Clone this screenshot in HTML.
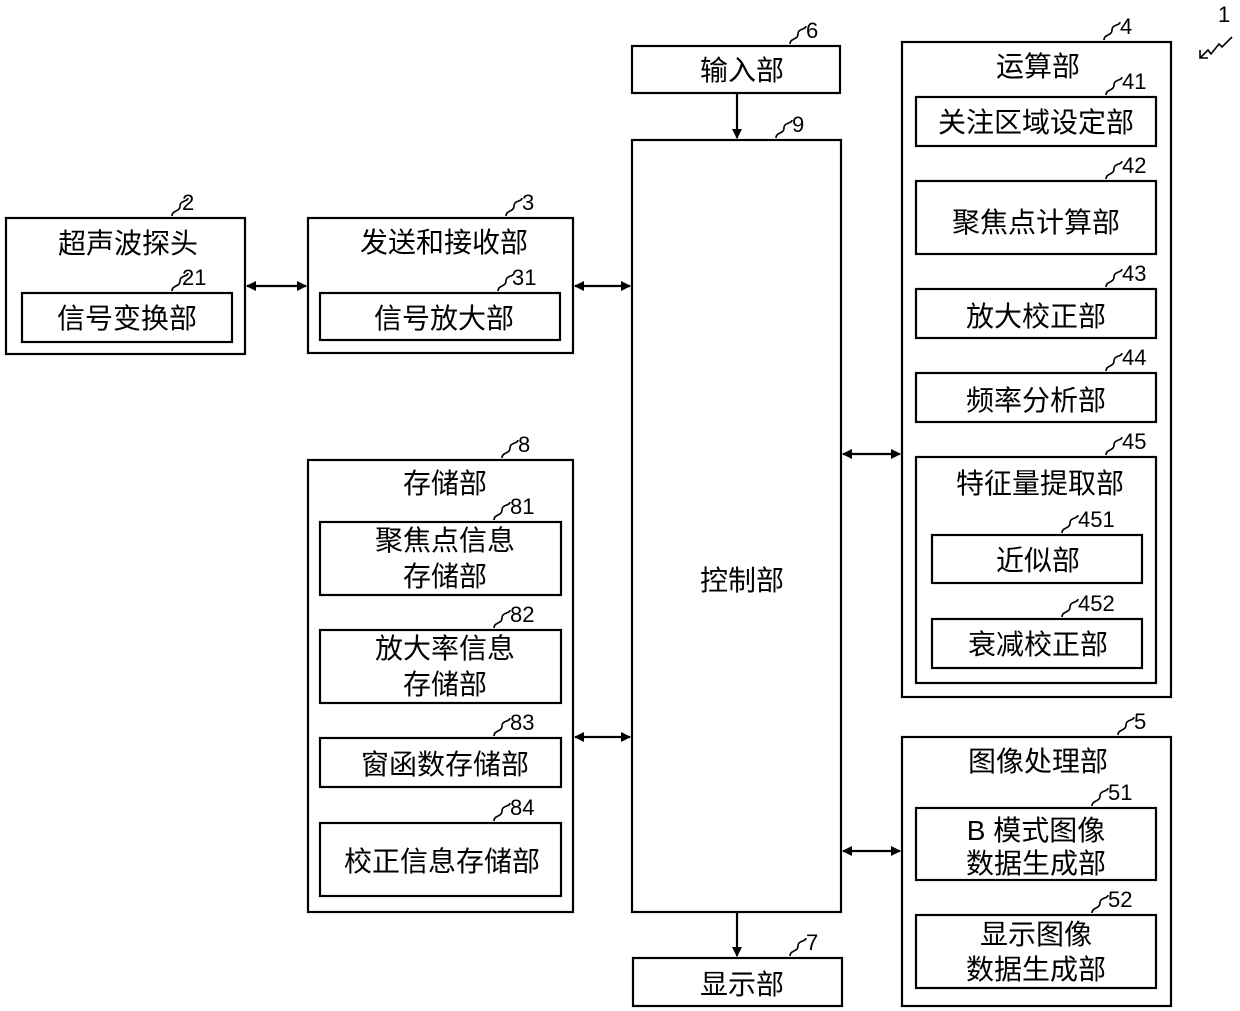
<!DOCTYPE html>
<html><head><meta charset="utf-8"><style>
html,body{margin:0;padding:0;background:#fff;}
svg{display:block;}
text{font-family:"Liberation Sans","Noto Sans CJK SC",sans-serif;fill:#000;}
.c{font-size:28px;text-anchor:middle;}
.n{font-size:22px;}
</style></head><body>
<svg width="1240" height="1011" viewBox="0 0 1240 1011" xmlns="http://www.w3.org/2000/svg">
<defs>
<marker id="a" markerWidth="10" markerHeight="10" refX="9" refY="5" orient="auto-start-reverse" markerUnits="userSpaceOnUse"><path d="M0,0 L10,5 L0,10 z" fill="#000"/></marker>
</defs>
<g fill="none" stroke="#000" stroke-width="2.2">
<rect x="6" y="218" width="239" height="136"/>
<rect x="22" y="293" width="210" height="49"/>
<rect x="308" y="218" width="265" height="135"/>
<rect x="320" y="293" width="240" height="47"/>
<rect x="632" y="46" width="208" height="47"/>
<rect x="632" y="140" width="209" height="772"/>
<rect x="633" y="958" width="209" height="48"/>
<rect x="308" y="460" width="265" height="452"/>
<rect x="320" y="522" width="241" height="73"/>
<rect x="320" y="630" width="241" height="73"/>
<rect x="320" y="738" width="241" height="49"/>
<rect x="320" y="823" width="241" height="73"/>
<rect x="902" y="42" width="269" height="655"/>
<rect x="916" y="97" width="240" height="49"/>
<rect x="916" y="181" width="240" height="73"/>
<rect x="916" y="289" width="240" height="49"/>
<rect x="916" y="373" width="240" height="49"/>
<rect x="916" y="457" width="240" height="226"/>
<rect x="932" y="535" width="210" height="48"/>
<rect x="932" y="619" width="210" height="49"/>
<rect x="902" y="737" width="269" height="269"/>
<rect x="916" y="808" width="240" height="72"/>
<rect x="916" y="915" width="240" height="73"/>
<line x1="247" y1="286" x2="306" y2="286" marker-start="url(#a)" marker-end="url(#a)"/>
<line x1="575" y1="286" x2="630" y2="286" marker-start="url(#a)" marker-end="url(#a)"/>
<line x1="575" y1="737" x2="630" y2="737" marker-start="url(#a)" marker-end="url(#a)"/>
<line x1="843" y1="454" x2="900" y2="454" marker-start="url(#a)" marker-end="url(#a)"/>
<line x1="843" y1="851" x2="900" y2="851" marker-start="url(#a)" marker-end="url(#a)"/>
<line x1="737" y1="93" x2="737" y2="138" marker-end="url(#a)"/>
<line x1="737" y1="912" x2="737" y2="956" marker-end="url(#a)"/>
<path d="M1200,58 l8,-8 l3,4 l8,-10 l3,3 l10,-10" stroke-width="1.6"/>
<polyline points="1200,50 1200,58 1208,58" stroke-width="1.6"/>
</g>
<g fill="none" stroke="#000" stroke-width="1.6">
<path d="M172,216 c0,-6 8,-4 8,-10 s8,-4 8,-8"/>
<path d="M172,291 c0,-6 8,-4 8,-10 s8,-4 8,-8"/>
<path d="M506,216 c0,-6 8,-4 8,-10 s8,-4 8,-8"/>
<path d="M498,291 c0,-6 8,-4 8,-10 s8,-4 8,-8"/>
<path d="M790,44 c0,-6 8,-4 8,-10 s8,-4 8,-8"/>
<path d="M776,138 c0,-6 8,-4 8,-10 s8,-4 8,-8"/>
<path d="M790,956 c0,-6 8,-4 8,-10 s8,-4 8,-8"/>
<path d="M502,458 c0,-6 8,-4 8,-10 s8,-4 8,-8"/>
<path d="M494,520 c0,-6 8,-4 8,-10 s8,-4 8,-8"/>
<path d="M494,628 c0,-6 8,-4 8,-10 s8,-4 8,-8"/>
<path d="M494,736 c0,-6 8,-4 8,-10 s8,-4 8,-8"/>
<path d="M494,821 c0,-6 8,-4 8,-10 s8,-4 8,-8"/>
<path d="M1104,40 c0,-6 8,-4 8,-10 s8,-4 8,-8"/>
<path d="M1106,95 c0,-6 8,-4 8,-10 s8,-4 8,-8"/>
<path d="M1106,179 c0,-6 8,-4 8,-10 s8,-4 8,-8"/>
<path d="M1106,287 c0,-6 8,-4 8,-10 s8,-4 8,-8"/>
<path d="M1106,371 c0,-6 8,-4 8,-10 s8,-4 8,-8"/>
<path d="M1106,455 c0,-6 8,-4 8,-10 s8,-4 8,-8"/>
<path d="M1062,533 c0,-6 8,-4 8,-10 s8,-4 8,-8"/>
<path d="M1062,617 c0,-6 8,-4 8,-10 s8,-4 8,-8"/>
<path d="M1118,735 c0,-6 8,-4 8,-10 s8,-4 8,-8"/>
<path d="M1092,806 c0,-6 8,-4 8,-10 s8,-4 8,-8"/>
<path d="M1092,913 c0,-6 8,-4 8,-10 s8,-4 8,-8"/>
</g>
<g class="n">
<text x="182" y="210">2</text><text x="182" y="285">21</text>
<text x="522" y="210">3</text><text x="512" y="285">31</text>
<text x="806" y="38">6</text><text x="792" y="132">9</text>
<text x="806" y="950">7</text><text x="518" y="452">8</text>
<text x="510" y="514">81</text><text x="510" y="622">82</text>
<text x="510" y="730">83</text><text x="510" y="815">84</text>
<text x="1120" y="34">4</text><text x="1122" y="89">41</text>
<text x="1122" y="173">42</text><text x="1122" y="281">43</text>
<text x="1122" y="365">44</text><text x="1122" y="449">45</text>
<text x="1078" y="527">451</text><text x="1078" y="611">452</text>
<text x="1134" y="729">5</text><text x="1108" y="800">51</text>
<text x="1108" y="907">52</text><text x="1218" y="22">1</text>
</g>
<g class="c">
<text x="128" y="253">超声波探头</text>
<text x="127" y="328">信号变换部</text>
<text x="444" y="252">发送和接收部</text>
<text x="444" y="328">信号放大部</text>
<text x="742" y="80">输入部</text>
<text x="742" y="590">控制部</text>
<text x="742" y="994">显示部</text>
<text x="445" y="493">存储部</text>
<text x="445" y="550">聚焦点信息</text><text x="445" y="586">存储部</text>
<text x="445" y="658">放大率信息</text><text x="445" y="694">存储部</text>
<text x="445" y="774">窗函数存储部</text>
<text x="442" y="871">校正信息存储部</text>
<text x="1038" y="76">运算部</text>
<text x="1036" y="132">关注区域设定部</text>
<text x="1036" y="232">聚焦点计算部</text>
<text x="1036" y="326">放大校正部</text>
<text x="1036" y="410">频率分析部</text>
<text x="1040" y="493">特征量提取部</text>
<text x="1038" y="570">近似部</text>
<text x="1038" y="654">衰减校正部</text>
<text x="1038" y="771">图像处理部</text>
<text x="1036" y="840">B 模式图像</text><text x="1036" y="873">数据生成部</text>
<text x="1036" y="944">显示图像</text><text x="1036" y="979">数据生成部</text>
</g>
</svg>
</body></html>
